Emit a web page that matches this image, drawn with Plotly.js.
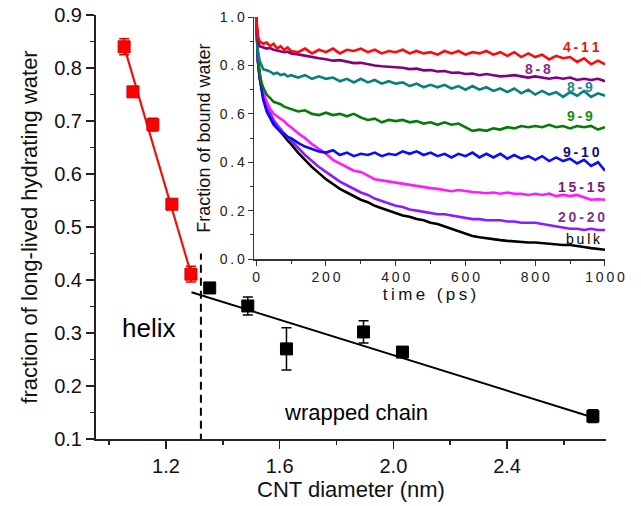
<!DOCTYPE html>
<html>
<head>
<meta charset="utf-8">
<script src="https://cdn.plot.ly/plotly-3.0.1.min.js"></script>
<style>html,body{margin:0;padding:0;background:#fff;}#chart{width:641px;height:506px;}</style>
</head>
<body>
<div id="chart"></div>
<script>
// ---------- main chart data ----------
const helixDiam = [1.053, 1.084, 1.154, 1.221, 1.288];
const helixFrac = [0.840, 0.755, 0.693, 0.543, 0.411];
const helixErr  = [0.015, 0.008, 0.012, 0.006, 0.015];
const helixFitX = [1.05, 1.29];
const helixFitY = [0.846, 0.409];

const chainDiam = [1.354, 1.488, 1.624, 1.895, 2.032, 2.702];
const chainFrac = [0.385, 0.351, 0.270, 0.302, 0.264, 0.143];
const chainErr  = [0.010, 0.017, 0.040, 0.021, 0.006, 0.012];
const chainFitX = [1.29, 2.70];
const chainFitY = [0.377, 0.141];

const boundaryX = [1.323, 1.323];
const boundaryY = [0.095, 0.45];

// ---------- inset data (time in ps, fraction of bound water) ----------
const time = [0,2,5,10,15,20,30,40,50,60,70,80,90,100,
  120,140,160,180,200,220,240,260,280,300,320,340,360,380,400,420,440,460,480,500,
  520,540,560,580,600,620,640,660,680,700,720,740,760,780,800,820,840,860,880,900,
  920,940,960,980,1000];

const s4_11 = [1.0,0.96,0.92,0.90,0.895,0.89,0.895,0.88,0.89,0.87,0.88,0.865,0.875,0.86,
  0.855,0.87,0.85,0.865,0.855,0.87,0.85,0.865,0.86,0.87,0.855,0.865,0.85,0.86,0.855,0.865,0.85,0.86,0.85,0.855,
  0.845,0.86,0.85,0.86,0.845,0.855,0.85,0.86,0.845,0.855,0.84,0.855,0.835,0.85,0.835,0.845,0.825,0.84,0.83,0.835,
  0.815,0.83,0.805,0.82,0.805];
const s8_8 = [1.0,0.95,0.90,0.88,0.878,0.875,0.87,0.872,0.865,0.862,0.86,0.855,0.857,0.85,
  0.846,0.84,0.836,0.83,0.826,0.82,0.822,0.815,0.81,0.811,0.805,0.80,0.797,0.795,0.79,0.791,0.785,0.787,0.78,0.781,
  0.775,0.777,0.77,0.771,0.765,0.767,0.76,0.765,0.76,0.755,0.757,0.76,0.755,0.75,0.755,0.75,0.745,0.75,0.745,0.75,
  0.74,0.745,0.74,0.745,0.735];
const s8_9 = [1.0,0.93,0.86,0.82,0.80,0.785,0.78,0.775,0.765,0.77,0.76,0.765,0.755,0.76,
  0.75,0.76,0.745,0.755,0.745,0.75,0.735,0.745,0.73,0.745,0.73,0.74,0.725,0.735,0.725,0.73,0.715,0.725,0.71,0.72,
  0.71,0.72,0.705,0.715,0.70,0.715,0.70,0.71,0.695,0.705,0.69,0.705,0.685,0.70,0.68,0.695,0.68,0.69,0.67,0.69,
  0.675,0.695,0.67,0.685,0.675];
const s9_9 = [1.0,0.92,0.84,0.77,0.73,0.71,0.68,0.665,0.65,0.645,0.64,0.63,0.625,0.62,
  0.61,0.615,0.60,0.595,0.605,0.595,0.60,0.59,0.60,0.585,0.575,0.58,0.565,0.575,0.57,0.575,0.565,0.57,0.56,0.565,
  0.555,0.565,0.555,0.56,0.545,0.53,0.535,0.53,0.54,0.535,0.545,0.54,0.55,0.545,0.55,0.545,0.555,0.545,0.55,0.54,
  0.55,0.545,0.55,0.535,0.545];
const s9_10 = [1.0,0.90,0.82,0.75,0.70,0.66,0.61,0.58,0.555,0.54,0.525,0.515,0.505,0.50,
  0.48,0.465,0.455,0.445,0.44,0.45,0.43,0.44,0.425,0.435,0.43,0.44,0.425,0.435,0.43,0.445,0.435,0.445,0.43,0.44,
  0.425,0.435,0.42,0.435,0.425,0.44,0.42,0.435,0.42,0.435,0.415,0.43,0.415,0.425,0.41,0.425,0.405,0.42,0.405,0.415,
  0.395,0.41,0.385,0.40,0.365];
const s15_15 = [1.0,0.90,0.82,0.76,0.72,0.69,0.65,0.62,0.60,0.59,0.58,0.57,0.555,0.545,
  0.52,0.50,0.475,0.455,0.435,0.41,0.395,0.38,0.365,0.36,0.345,0.33,0.325,0.32,0.315,0.31,0.305,0.30,0.297,0.293,
  0.29,0.285,0.28,0.285,0.28,0.277,0.275,0.272,0.275,0.27,0.275,0.27,0.27,0.265,0.27,0.265,0.27,0.26,0.265,0.26,
  0.265,0.255,0.245,0.247,0.245];
const s20_20 = [1.0,0.90,0.82,0.75,0.71,0.68,0.63,0.60,0.575,0.555,0.535,0.52,0.505,0.49,
  0.46,0.43,0.405,0.38,0.36,0.34,0.32,0.305,0.29,0.275,0.265,0.25,0.24,0.23,0.22,0.215,0.205,0.20,0.195,0.19,
  0.185,0.185,0.18,0.175,0.17,0.165,0.165,0.16,0.16,0.16,0.155,0.155,0.15,0.15,0.15,0.145,0.14,0.135,0.13,0.125,
  0.125,0.12,0.125,0.12,0.12];
const sBulk = [1.0,0.90,0.82,0.75,0.70,0.67,0.62,0.59,0.565,0.545,0.525,0.505,0.49,0.475,
  0.44,0.41,0.38,0.355,0.33,0.31,0.29,0.275,0.26,0.245,0.235,0.22,0.21,0.20,0.19,0.18,0.175,0.165,0.16,0.15,
  0.145,0.135,0.125,0.115,0.105,0.095,0.09,0.085,0.08,0.078,0.075,0.072,0.07,0.068,0.068,0.065,0.062,0.06,0.058,0.058,
  0.055,0.05,0.045,0.042,0.038];

const insetSeries = [
  {name:'bulk',  y:sBulk,  color:'#000000'},
  {name:'20-20', y:s20_20, color:'#8a1cff'},
  {name:'15-15', y:s15_15, color:'#ff1aff'},
  {name:'9-10',  y:s9_10,  color:'#0a0aff'},
  {name:'9-9',   y:s9_9,   color:'#087a08'},
  {name:'8-9',   y:s8_9,   color:'#0a7f7f'},
  {name:'8-8',   y:s8_8,   color:'#800080'},
  {name:'4-11',  y:s4_11,  color:'#ff0a0a'}
];

const labelText  = ['4-11','8-8','8-9','9-9','9-10','15-15','20-20','bulk'];
const labelT     = [934, 808, 928, 928, 934, 934, 934, 937];
const labelV     = [0.876, 0.785, 0.71, 0.59, 0.443, 0.298, 0.173, 0.083];
const labelColor = ['#ee1111','#8a2a8a','#1a8a8a','#1a8a1a','#10107a','#7a207a','#7a3a8a','#000000'];

const insetXTicks = [0, 200, 400, 600, 800, 1000];
const insetYTicks = [0, 0.2, 0.4, 0.6, 0.8, 1.0];

const sp = '\u2009';
const spaced = s => s.split('').join(sp);

// ---------- traces ----------
const traces = [];
traces.push({x:helixFitX, y:helixFitY, mode:'lines', line:{color:'#e8140f', width:2.2}, xaxis:'x', yaxis:'y', hoverinfo:'skip'});
traces.push({x:chainFitX, y:chainFitY, mode:'lines', line:{color:'#000', width:2}, xaxis:'x', yaxis:'y', hoverinfo:'skip'});
traces.push({x:boundaryX, y:boundaryY, mode:'lines', line:{color:'#000', width:2, dash:'8px,5px'}, xaxis:'x', yaxis:'y', cliponaxis:false});
traces.push({x:helixDiam, y:helixFrac, mode:'markers',
  marker:{symbol:'square', size:12, color:'#ff0000', line:{color:'#d00000', width:1}},
  error_y:{type:'data', array:helixErr, visible:true, color:'#e00000', thickness:1.5, width:5},
  xaxis:'x', yaxis:'y'});
traces.push({x:chainDiam, y:chainFrac, mode:'markers',
  marker:{symbol:'square', size:12, color:'#000', line:{color:'#000', width:1}},
  error_y:{type:'data', array:chainErr, visible:true, color:'#000', thickness:1.5, width:5},
  xaxis:'x', yaxis:'y'});

insetSeries.forEach(s => {
  traces.push({x:time, y:s.y, mode:'lines', line:{color:s.color, width:2.6, shape:'linear'}, xaxis:'x2', yaxis:'y2'});
});

const font = "'Liberation Sans', Arial, sans-serif";

const annotations = [
  {x:1.137, y:0.31, xref:'x', yref:'y', text:'helix', showarrow:false, font:{family:font, size:26, color:'#000'}},
  {x:1.87, y:0.15, xref:'x', yref:'y', text:'wrapped chain', showarrow:false, font:{family:font, size:22, color:'#000'}}
];
labelText.forEach((t,i) => {
  annotations.push({x:labelT[i], y:labelV[i], xref:'x2', yref:'y2', text: spaced(t), showarrow:false,
    font:{family:font, size:14, color:labelColor[i], weight: t==='bulk' ? 'normal' : 'bold'}});
});

const layout = {
  width:641, height:506,
  margin:{l:96, r:35, t:15, b:67},
  paper_bgcolor:'#fff', plot_bgcolor:'rgba(0,0,0,0)',
  showlegend:false,
  font:{family:font, color:'#000'},
  xaxis:{
    domain:[0,1], range:[0.954, 2.748], anchor:'y',
    showline:true, linecolor:'#222', linewidth:2, zeroline:false, showgrid:false,
    ticks:'outside', ticklen:8, tickwidth:1.5, tickcolor:'#222',
    tick0:1.2, dtick:0.4, tickformat:'.1f',
    minor:{ticks:'outside', ticklen:4, tickwidth:1.5, tickcolor:'#222', dtick:0.2, tick0:1.0},
    tickfont:{family:font, size:20, color:'#111'},
    title:{text:'CNT diameter (nm)', font:{family:font, size:22, color:'#111'}, standoff:6}
  },
  yaxis:{
    domain:[0,1], range:[0.1, 0.9], anchor:'x',
    showline:true, linecolor:'#222', linewidth:2, zeroline:false, showgrid:false,
    ticks:'outside', ticklen:8, tickwidth:1.5, tickcolor:'#222',
    tick0:0.1, dtick:0.1, tickformat:'.1f',
    minor:{ticks:'outside', ticklen:4, tickwidth:1.5, tickcolor:'#222', dtick:0.05},
    tickfont:{family:font, size:20, color:'#111'},
    title:{text:'fraction of long-lived hydrating water', font:{family:font, size:22, color:'#111'}, standoff:10}
  },
  xaxis2:{
    domain:[0.31, 0.998], range:[-6, 1000], anchor:'y2',
    showline:true, linecolor:'#333', linewidth:1.5, zeroline:false, showgrid:false,
    ticks:'outside', ticklen:5, tickwidth:1, tickcolor:'#333',
    tickmode:'array', tickvals:insetXTicks, ticktext:insetXTicks.map(v => spaced(String(v))),
    minor:{ticks:'outside', ticklen:3, tickwidth:1, tickcolor:'#333', dtick:100},
    tickfont:{family:font, size:14, color:'#222'},
    title:{text:spaced('time (ps)'), font:{family:font, size:17, color:'#111'}, standoff:4}
  },
  yaxis2:{
    domain:[0.4245, 0.995], range:[0, 1.0], anchor:'x2',
    showline:true, linecolor:'#333', linewidth:1.5, zeroline:false, showgrid:false,
    ticks:'outside', ticklen:5, tickwidth:1, tickcolor:'#333',
    tickmode:'array', tickvals:insetYTicks, ticktext:insetYTicks.map(v => spaced(v.toFixed(1))),
    minor:{ticks:'outside', ticklen:3, tickwidth:1, tickcolor:'#333', dtick:0.1},
    tickfont:{family:font, size:14, color:'#222'},
    title:{text:'Fraction of bound water', font:{family:font, size:18, color:'#111'}, standoff:4}
  },
  annotations: annotations
};

Plotly.newPlot('chart', traces, layout, {displayModeBar:false, staticPlot:true});
</script>
</body>
</html>
